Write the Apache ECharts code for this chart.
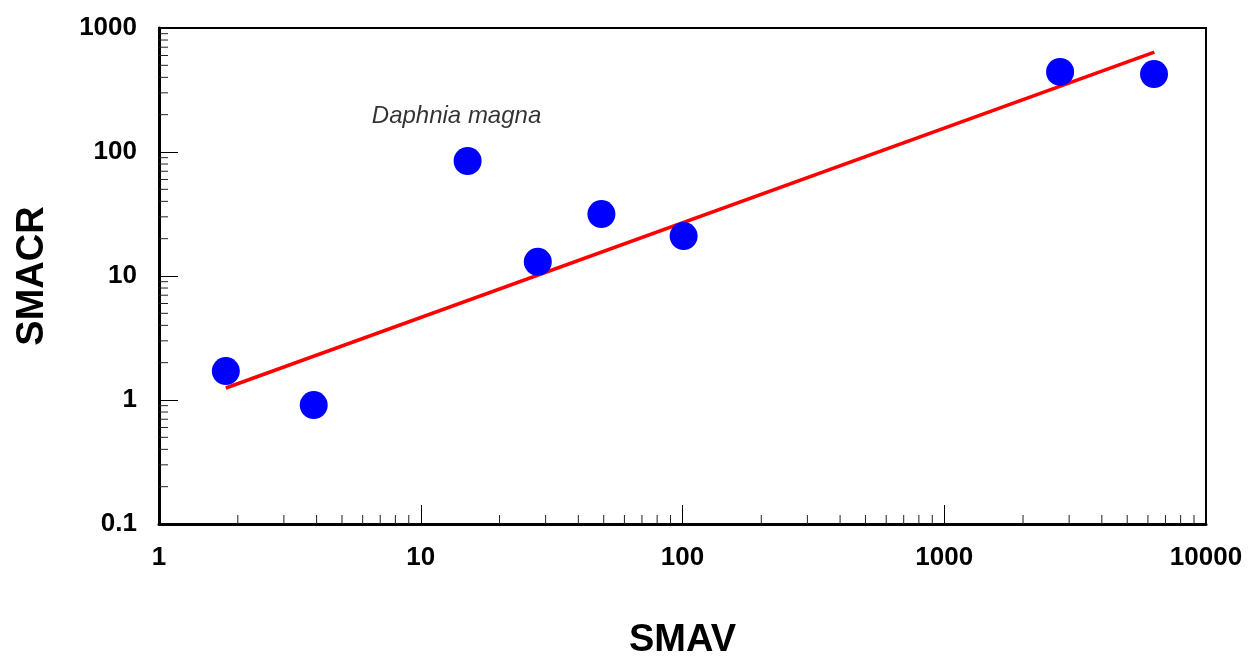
<!DOCTYPE html>
<html>
<head>
<meta charset="utf-8">
<script src="https://cdn.jsdelivr.net/npm/echarts@6/dist/echarts.min.js"></script>
<style>
html,body{margin:0;padding:0;background:#fff;}
#chart{width:1250px;height:656px;}
</style>
</head>
<body>
<div id="chart"></div>
<script>
// Data
const smav  = [1.8, 3.9, 15.1, 28, 49, 101, 2770, 6330];
const smacr = [1.71, 0.91, 84.6, 13, 31.6, 21, 442, 425];
const fitX = [1.8, 6350];
const fitY = [1.25, 640];
const annotation = { text: 'Daphnia magna', x: 13.7, y: 195 };
const xMinorTicks = [2,3,4,5,6,7,8,9,20,30,40,50,60,70,80,90,200,300,400,500,600,700,800,900,2000,3000,4000,5000,6000,7000,8000,9000];
const yMinorTicks = [0.2,0.3,0.4,0.5,0.6,0.7,0.8,0.9,2,3,4,5,6,7,8,9,20,30,40,50,60,70,80,90,200,300,400,500,600,700,800,900];

const FONT = '"Liberation Sans", Arial, sans-serif';
const chart = echarts.init(document.getElementById('chart'), null, {renderer: 'canvas'});

const minorTickItem = (horizontal) => function (params, api) {
  const p = api.coord([api.value(0), api.value(1)]);
  const len = 9;
  const shape = horizontal
    ? {x1: p[0], y1: p[1], x2: p[0], y2: p[1] - len}
    : {x1: p[0], y1: p[1], x2: p[0] + len, y2: p[1]};
  return {type: 'line', shape: shape, style: {stroke: '#222', lineWidth: 1}};
};
const plainLabel = v => {
  const n = Number(v);
  return n < 1 ? String(Math.round(n * 10) / 10) : String(Math.round(n));
};

chart.setOption({
  animation: false,
  backgroundColor: '#fff',
  grid: {left: 159, right: 44, top: 28, bottom: 132, outerBoundsMode: 'none', containLabel: false,
    show: true, borderColor: '#000', borderWidth: 2, backgroundColor: 'transparent'},
  xAxis: {
    type: 'log', logBase: 10, min: 1, max: 10000, interval: 1,
    name: 'SMAV', nameLocation: 'middle', nameGap: 98,
    nameTextStyle: {fontFamily: FONT, fontSize: 38, fontWeight: 'bold', color: '#000'},
    axisLine: {show: true, lineStyle: {color: '#000', width: 3}},
    axisTick: {show: true, inside: true, length: 19, lineStyle: {color: '#000', width: 1}},
    minorTick: {show: false},
    splitLine: {show: false},
    axisLabel: {fontFamily: FONT, fontSize: 26, fontWeight: 'bold', color: '#000', margin: 21, formatter: plainLabel}
  },
  yAxis: {
    type: 'log', logBase: 10, min: 0.1, max: 1000, interval: 1,
    name: 'SMACR', nameLocation: 'middle', nameGap: 107,
    nameTextStyle: {fontFamily: FONT, fontSize: 38, fontWeight: 'bold', color: '#000'},
    axisLine: {show: true, lineStyle: {color: '#000', width: 3}},
    axisTick: {show: true, inside: true, length: 19, lineStyle: {color: '#000', width: 1}},
    minorTick: {show: false},
    splitLine: {show: false},
    axisLabel: {fontFamily: FONT, fontSize: 26, fontWeight: 'bold', color: '#000', margin: 22, formatter: plainLabel}
  },
  series: [
    {
      type: 'custom', silent: true, z: 1,
      renderItem: minorTickItem(true),
      data: xMinorTicks.map(v => [v, 0.1])
    },
    {
      type: 'custom', silent: true, z: 1,
      renderItem: minorTickItem(false),
      data: yMinorTicks.map(v => [1, v])
    },
    {
      type: 'line', z: 3, symbol: 'none', silent: true,
      lineStyle: {color: '#ff0000', width: 3.5},
      data: fitX.map((x, i) => [x, fitY[i]])
    },
    {
      type: 'scatter', z: 4, symbol: 'circle', symbolSize: 28,
      itemStyle: {color: '#0000ff', opacity: 1},
      data: smav.map((x, i) => [x, smacr[i]])
    },
    {
      type: 'scatter', z: 5, symbolSize: 0, silent: true,
      label: {show: true, position: 'inside', formatter: annotation.text,
        fontFamily: FONT, fontSize: 24, fontStyle: 'italic', color: '#000', textBorderWidth: 0},
      data: [[annotation.x, annotation.y]]
    }
  ]
});
</script>
</body>
</html>
